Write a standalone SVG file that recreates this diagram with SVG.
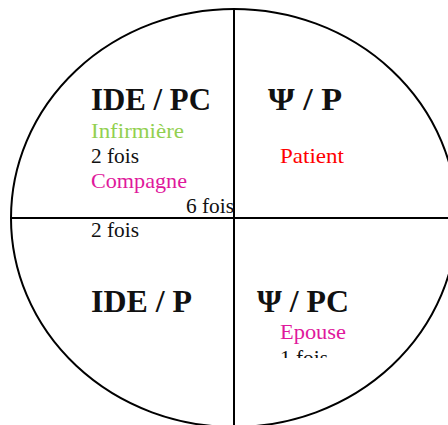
<svg xmlns="http://www.w3.org/2000/svg" width="448" height="425" viewBox="0 0 448 425">
<style>
.ln{fill:none;stroke:#000;stroke-width:2}
.h{font-family:"Liberation Serif",serif;font-weight:bold;font-size:32px;fill:#111}
.t{font-family:"Liberation Serif",serif;font-size:21px;fill:#111}
.g{fill:#92d050}
.m{fill:#e0189c}
.r{fill:#ff0000}
</style>
<defs><clipPath id="cut"><rect x="0" y="0" width="448" height="358"/></clipPath></defs>
<rect width="448" height="425" fill="#fff"/>
<g id="connectors">
<ellipse class="ln" cx="234" cy="218" rx="223" ry="209"/>
<line class="ln" x1="234" y1="9" x2="234" y2="425"/>
<line class="ln" x1="11" y1="218" x2="448" y2="218"/>
</g>
<g id="q1">
<text class="h" x="91" y="110" textLength="120" lengthAdjust="spacingAndGlyphs">IDE / PC</text>
<text class="t g" x="91" y="138" textLength="93" lengthAdjust="spacingAndGlyphs">Infirmière</text>
<text class="t" x="91" y="163" textLength="48" lengthAdjust="spacingAndGlyphs">2 fois</text>
<text class="t m" x="91" y="188" textLength="96" lengthAdjust="spacingAndGlyphs">Compagne</text>
<text class="t" x="186" y="213" textLength="48" lengthAdjust="spacingAndGlyphs">6 fois</text>
</g>
<g id="q2">
<text class="h" x="268" y="110" textLength="74" lengthAdjust="spacingAndGlyphs">Ψ / P</text>
<text class="t r" x="280" y="163" textLength="64" lengthAdjust="spacingAndGlyphs">Patient</text>
</g>
<g id="q3">
<text class="t" x="91" y="237" textLength="48" lengthAdjust="spacingAndGlyphs">2 fois</text>
<text class="h" x="91" y="312" textLength="101" lengthAdjust="spacingAndGlyphs">IDE / P</text>
</g>
<g id="q4">
<text class="h" x="257" y="312" textLength="92" lengthAdjust="spacingAndGlyphs">Ψ / PC</text>
<text class="t m" x="280" y="339" textLength="66" lengthAdjust="spacingAndGlyphs">Epouse</text>
<text class="t" x="280" y="365" clip-path="url(#cut)" textLength="48" lengthAdjust="spacingAndGlyphs">1 fois</text>
</g>
</svg>
